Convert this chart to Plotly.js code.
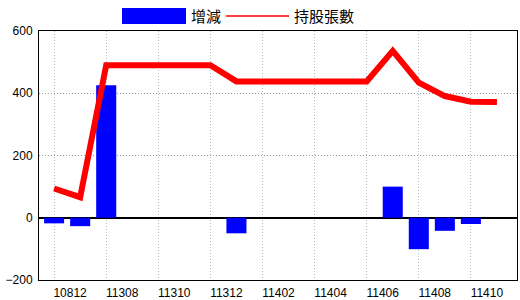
<!DOCTYPE html>
<html><head><meta charset="utf-8">
<script src="https://cdn.plot.ly/plotly-3.0.1.min.js"></script>
<style>body{margin:0;background:#fff}#chart{width:520px;height:300px}</style>
</head><body><div id="chart"></div>
<script>
const categories = ["10812","11307","11308","11309","11310","11311","11312","11401","11402","11403","11404","11405","11406","11407","11408","11409","11410","11411"];
const tickLabels = ["10812","11308","11310","11312","11402","11404","11406","11408","11410"];
const changeValues = [-18,-27,426,0,0,0,0,-50,0,0,0,0,0,100,-101,-42,-20,0];
const holdersValues = [94,66,490,490,490,490,490,438,438,438,438,438,438,536,434,391,373,372];
const seriesNames = ["增減","持股張數"];

const W = 520, H = 300, L = 39, R = 3, T = 31, B = 20;
const pw = W - L - R, ph = H - T - B;
const px = x => (x - L) / pw;
const py = y => (H - B - y) / ph;

const traces = [
  {type:'bar', name:seriesNames[0], x:categories, y:changeValues, marker:{color:'#0000ff'}, width:0.77, showlegend:false},
  {type:'scatter', mode:'lines', name:seriesNames[1], x:categories, y:holdersValues, line:{color:'#ff0000', width:6}, showlegend:false}
];

const layout = {
  width:W, height:H,
  margin:{l:L, r:R, t:T, b:B, pad:0},
  paper_bgcolor:'#ffffff', plot_bgcolor:'#ffffff',
  font:{family:'Liberation Sans, Arial, sans-serif', size:12, color:'#000'},
  xaxis:{type:'category', range:[-0.58,17.77], tickmode:'array', tickvals:tickLabels, ticktext:tickLabels,
    showgrid:true, gridcolor:'#a8bccc', griddash:'1px,2px', gridwidth:1,
    showline:true, linecolor:'#000', linewidth:1, mirror:true, ticks:'', ticklabelshift:16, ticklabelstandoff:2,
    tickfont:{size:12}},
  yaxis:{range:[-200,600], tickvals:[-200,0,200,400,600], showgrid:true, gridcolor:'#999999', griddash:'1px,2px', gridwidth:1,
    zeroline:true, zerolinecolor:'#000', zerolinewidth:2,
    showline:true, linecolor:'#000', linewidth:1, mirror:true, ticks:'', ticklabelstandoff:3, tickfont:{size:12}},
  showlegend:false,
  shapes:[
    {type:'rect', xref:'paper', yref:'paper', x0:px(122), x1:px(186), y0:py(24), y1:py(8), fillcolor:'#0000ff', line:{width:0}},
    {type:'line', xref:'paper', yref:'paper', x0:px(226), x1:px(289), y0:py(16), y1:py(16), line:{color:'#ff0000', width:1.5}}
  ],
  annotations:[
    {xref:'paper', yref:'paper', x:px(189), y:py(16), xanchor:'left', yanchor:'middle', text:seriesNames[0], showarrow:false,
     font:{family:'Noto Sans CJK TC', size:15, color:'#000'}},
    {xref:'paper', yref:'paper', x:px(292), y:py(16), xanchor:'left', yanchor:'middle', text:seriesNames[1], showarrow:false,
     font:{family:'Noto Sans CJK TC', size:15, color:'#000'}}
  ]
};
Plotly.newPlot('chart', traces, layout, {staticPlot:true, displayModeBar:false});
</script></body></html>
